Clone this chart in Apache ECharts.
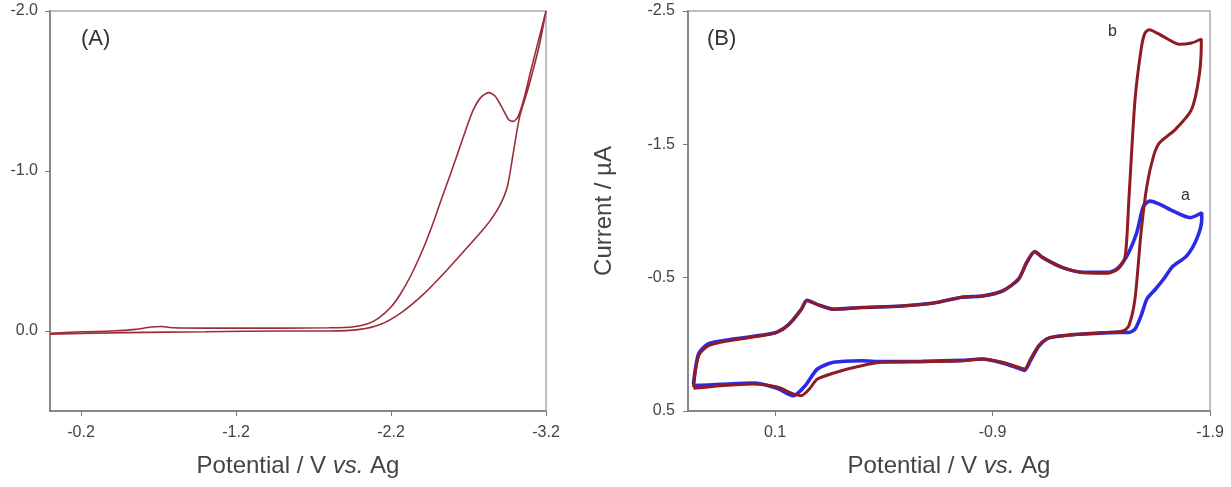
<!DOCTYPE html>
<html>
<head>
<meta charset="utf-8">
<script src="https://cdn.jsdelivr.net/npm/echarts@6/dist/echarts.min.js"></script>
<style>
html, body { margin: 0; padding: 0; background: #fff; }
#cvChart { width: 1231px; height: 487px; }
</style>
</head>
<body>
<div id="cvChart"></div>
<script>
// panel A: one loop, forward scan then return
var potentialA = [0.0, -0.2, -0.4, -0.55, -0.65, -0.72, -0.8, -1.0, -1.5, -1.8, -1.95, -2.05, -2.12, -2.2, -2.26, -2.33, -2.41, -2.47, -2.52, -2.58, -2.63, -2.68, -2.73, -2.78, -2.83, -2.87, -2.92, -2.96, -2.99, -3.02, -3.06, -3.10, -3.15, -3.2,
    -3.16, -3.13, -3.08, -3.03, -2.99, -2.95, -2.9, -2.84, -2.79, -2.69, -2.56, -2.41, -2.26, -2.13, -2.0, -1.8, -1.5, -1.0, -0.5, 0.0];
var currentA = [0.015, 0.005, 0.0, -0.01, -0.025, -0.028, -0.02, -0.018, -0.018, -0.02, -0.025, -0.045, -0.08, -0.15, -0.23, -0.35, -0.52, -0.67, -0.81, -0.97, -1.11, -1.25, -1.38, -1.46, -1.49, -1.47, -1.39, -1.32, -1.31, -1.34, -1.46, -1.62, -1.81, -2.0,
    -1.8, -1.68, -1.5, -1.34, -1.12, -0.9, -0.78, -0.69, -0.63, -0.52, -0.38, -0.23, -0.11, -0.04, -0.01, 0.0, 0.0, 0.005, 0.01, 0.02];

// panel B, curve a (blue)
var potentialBa = [0.475, 0.451, 0.405, 0.312, 0.164, 0.091, 0.036, -0.02, -0.047, -0.093, -0.167, -0.298, -0.483, -0.631, -0.76, -0.853, -0.946, -1.02, -1.057, -1.094, -1.131, -1.223, -1.316, -1.427, -1.47, -1.517, -1.563, -1.594, -1.624, -1.67, -1.73, -1.808, -1.862,
    -1.862, -1.838, -1.792, -1.73, -1.686, -1.649, -1.61, -1.583, -1.555, -1.527, -1.48, -1.316, -1.186, -1.149, -1.112, -1.075, -1.047, -1.02, -0.946, -0.853, -0.76, -0.576, -0.39, -0.298, -0.169, -0.095, -0.039, 0.016, 0.09, 0.2, 0.35, 0.475];
var currentBa = [0.30, 0.07, -0.005, -0.035, -0.068, -0.092, -0.15, -0.26, -0.33, -0.30, -0.264, -0.276, -0.288, -0.31, -0.353, -0.363, -0.40, -0.49, -0.613, -0.695, -0.65, -0.575, -0.54, -0.54, -0.563, -0.66, -0.837, -1.036, -1.074, -1.05, -1.0, -0.95, -0.987,
    -0.937, -0.787, -0.662, -0.587, -0.488, -0.413, -0.34, -0.214, -0.114, -0.089, -0.09, -0.077, -0.057, -0.04, 0.015, 0.12, 0.195, 0.18, 0.14, 0.11, 0.12, 0.128, 0.13, 0.123, 0.135, 0.185, 0.31, 0.385, 0.33, 0.29, 0.30, 0.31];

// panel B, curve b (dark red)
var potentialBb = [0.475, 0.451, 0.405, 0.312, 0.164, 0.091, 0.036, -0.02, -0.047, -0.093, -0.167, -0.298, -0.483, -0.631, -0.76, -0.853, -0.946, -1.02, -1.057, -1.094, -1.131, -1.223, -1.316, -1.427, -1.48, -1.51, -1.527, -1.555, -1.583, -1.60, -1.62, -1.684, -1.76, -1.815, -1.86,
    -1.86, -1.85, -1.815, -1.74, -1.667, -1.64, -1.61, -1.583, -1.555, -1.527, -1.50, -1.445, -1.316, -1.186, -1.149, -1.112, -1.075, -1.047, -1.02, -0.946, -0.853, -0.76, -0.576, -0.39, -0.298, -0.205, -0.095, -0.058, -0.02, 0.016, 0.09, 0.2, 0.35, 0.475];
var currentBb = [0.32, 0.085, 0.01, -0.027, -0.064, -0.09, -0.15, -0.26, -0.33, -0.30, -0.264, -0.276, -0.288, -0.31, -0.353, -0.363, -0.40, -0.488, -0.613, -0.695, -0.65, -0.575, -0.538, -0.533, -0.57, -0.66, -1.086, -1.83, -2.21, -2.33, -2.36, -2.31, -2.25, -2.26, -2.29,
    -2.26, -2.01, -1.76, -1.61, -1.51, -1.41, -1.19, -0.84, -0.34, -0.14, -0.10, -0.09, -0.077, -0.057, -0.04, 0.01, 0.11, 0.185, 0.172, 0.135, 0.11, 0.123, 0.13, 0.135, 0.16, 0.198, 0.26, 0.335, 0.385, 0.372, 0.32, 0.297, 0.31, 0.33];

var xTicksA = [-0.2, -1.2, -2.2, -3.2];
var yTicksA = [-2.0, -1.0, 0.0];
var xTicksB = [0.1, -0.9, -1.9];
var yTicksB = [-2.5, -1.5, -0.5, 0.5];

function pairs(xs, ys) {
    return xs.map(function (x, i) { return [x, ys[i]]; });
}

var font = 'Liberation Sans, Arial, sans-serif';
var xName = 'Potential / V {i|vs.} Ag';
var nameStyle = {
    fontSize: 24, color: '#444', fontFamily: font,
    rich: { i: { fontSize: 24, color: '#444', fontStyle: 'italic', fontFamily: font } }
};

function oneDecimal(v) { return v.toFixed(1); }

function makeAxis(grid, min, max, ticks, margin, extra) {
    return Object.assign({
        type: 'value',
        gridIndex: grid,
        min: min,
        max: max,
        inverse: true,
        splitLine: { show: false },
        axisLine: { show: true, onZero: false, lineStyle: { color: '#777', width: 1.5 } },
        axisTick: { show: true, length: 5, customValues: ticks, lineStyle: { color: '#777' } },
        axisLabel: { color: '#444', fontSize: 16, fontFamily: font, margin: margin, customValues: ticks, formatter: oneDecimal }
    }, extra || {});
}

var chart = echarts.init(document.getElementById('cvChart'));
var option = {
    animation: false,
    backgroundColor: '#fff',
    grid: [
        { left: 50, top: 11, right: 685, bottom: 76, show: true, borderColor: '#aaa', borderWidth: 1.5 },
        { left: 688, top: 11, right: 21, bottom: 76, show: true, borderColor: '#aaa', borderWidth: 1.5 }
    ],
    xAxis: [
        makeAxis(0, -3.2, 0, xTicksA, 14, { name: xName, nameLocation: 'middle', nameGap: 43, nameTextStyle: nameStyle }),
        makeAxis(1, -1.9, 0.5, xTicksB, 14, { name: xName, nameLocation: 'middle', nameGap: 43, nameTextStyle: nameStyle })
    ],
    yAxis: [
        makeAxis(0, -2.0, 0.5, yTicksA, 12),
        makeAxis(1, -2.5, 0.5, yTicksB, 13, { name: 'Current / µA', nameLocation: 'middle', nameGap: 72, nameTextStyle: nameStyle })
    ],
    series: [
        {
            name: 'A', type: 'line', xAxisIndex: 0, yAxisIndex: 0,
            data: pairs(potentialA, currentA),
            showSymbol: false, smooth: 0.25,
            lineStyle: { color: '#9b2d3a', width: 1.6 }
        },
        {
            name: 'a', type: 'line', xAxisIndex: 1, yAxisIndex: 1,
            data: pairs(potentialBa, currentBa),
            showSymbol: false, smooth: 0.25,
            lineStyle: { color: '#2b2be6', width: 3.6 }
        },
        {
            name: 'b', type: 'line', xAxisIndex: 1, yAxisIndex: 1,
            data: pairs(potentialBb, currentBb),
            showSymbol: false, smooth: 0.25,
            lineStyle: { color: '#8e1c22', width: 3 }
        }
    ],
    graphic: [
        { type: 'text', left: 81, top: 28, style: { text: '(A)', fontSize: 22, fill: '#333', fontFamily: font } },
        { type: 'text', left: 707, top: 28, style: { text: '(B)', fontSize: 22, fill: '#333', fontFamily: font } },
        { type: 'text', left: 1108, top: 24, style: { text: 'b', fontSize: 16, fill: '#333', fontFamily: font } },
        { type: 'text', left: 1181, top: 188, style: { text: 'a', fontSize: 16, fill: '#333', fontFamily: font } }
    ]
};
chart.setOption(option);
</script>
</body>
</html>
